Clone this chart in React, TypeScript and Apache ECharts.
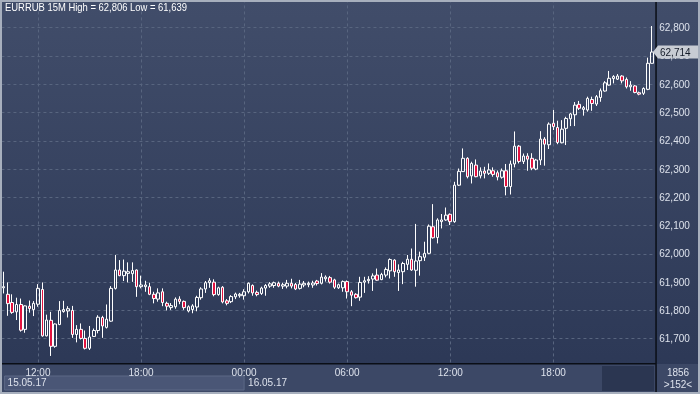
import React, { useEffect, useRef } from 'react';
import * as echarts from 'echarts';

const SYMBOL = 'EURRUB';
const PERIOD = '15M';
const START_DAY = '15.05.17';
const NEXT_DAY = '16.05.17';
const START_MINUTE = 10 * 60; // first visible bar 10:00
const STEP_MINUTES = 15;
const TOTAL_BARS = 1856;

// prices in thousandths of a rouble (62714 = 62,714)
const opens = [
  61880, 61857, 61828, 61795, 61821, 61733, 61815, 61803, 61822, 61874,
  61710, 61765, 61673, 61750, 61796, 61798, 61800, 61715, 61733, 61701,
  61666, 61708, 61729, 61775, 61740, 61762, 61878, 61943, 61923, 61931,
  61930, 61943, 61884, 61884, 61884, 61857, 61840, 61866, 61825, 61810,
  61813, 61840, 61832, 61798, 61803, 61812, 61845, 61876, 61898, 61900,
  61856, 61882, 61834, 61831, 61848, 61852, 61852, 61866, 61888, 61864,
  61860, 61879, 61886, 61888, 61896, 61886, 61886, 61896, 61892, 61878,
  61890, 61891, 61890, 61904, 61896, 61912, 61916, 61908, 61880, 61880,
  61902, 61866, 61857, 61847, 61900, 61905, 61911, 61925, 61909, 61925,
  61940, 61978, 61934, 61937, 61963, 61981, 61942, 61976, 61988, 62002,
  62096, 62058, 62114, 62120, 62140, 62114, 62243, 62291, 62338, 62276,
  62314, 62276, 62293, 62285, 62294, 62287, 62271, 62294, 62238, 62318,
  62381, 62327, 62346, 62338, 62300, 62332, 62406, 62386, 62462, 62447,
  62393, 62444, 62478, 62492, 62529, 62511, 62509, 62546, 62530, 62553,
  62576, 62597, 62620, 62618, 62629, 62617, 62591, 62594, 62570, 62568,
  62582, 62674,
];
const closes = [
  61884, 61824, 61793, 61821, 61730, 61816, 61807, 61825, 61878, 61710,
  61766, 61673, 61752, 61800, 61803, 61806, 61715, 61733, 61701, 61666,
  61706, 61729, 61776, 61745, 61769, 61878, 61943, 61923, 61939, 61937,
  61941, 61884, 61890, 61890, 61857, 61842, 61862, 61828, 61815, 61817,
  61840, 61832, 61810, 61813, 61816, 61846, 61876, 61898, 61905, 61856,
  61880, 61830, 61825, 61849, 61858, 61857, 61866, 61896, 61862, 61856,
  61879, 61888, 61894, 61898, 61886, 61891, 61896, 61886, 61876, 61893,
  61896, 61896, 61897, 61895, 61918, 61918, 61900, 61882, 61891, 61902,
  61866, 61854, 61845, 61899, 61905, 61910, 61922, 61907, 61927, 61945,
  61980, 61937, 61943, 61966, 61981, 61943, 61975, 61990, 62002, 62098,
  62057, 62120, 62120, 62137, 62114, 62243, 62292, 62338, 62273, 62320,
  62273, 62293, 62285, 62297, 62281, 62272, 62294, 62238, 62318, 62381,
  62327, 62346, 62335, 62303, 62332, 62406, 62388, 62459, 62450, 62394,
  62441, 62479, 62495, 62526, 62515, 62517, 62550, 62532, 62556, 62577,
  62605, 62621, 62627, 62629, 62612, 62591, 62597, 62571, 62565, 62585,
  62674, 62714,
];
const lows = [
  61860, 61781, 61788, 61766, 61725, 61721, 61792, 61780, 61813, 61707,
  61708, 61639, 61668, 61748, 61792, 61775, 61703, 61687, 61697, 61662,
  61660, 61706, 61719, 61703, 61736, 61760, 61874, 61921, 61904, 61899,
  61901, 61848, 61878, 61866, 61854, 61825, 61831, 61815, 61800, 61802,
  61806, 61822, 61802, 61793, 61790, 61797, 61838, 61862, 61880, 61850,
  61852, 61825, 61818, 61826, 61840, 61845, 61838, 61860, 61852, 61850,
  61855, 61852, 61880, 61880, 61882, 61876, 61878, 61878, 61872, 61874,
  61882, 61882, 61880, 61888, 61892, 61902, 61895, 61876, 61876, 61866,
  61842, 61815, 61842, 61834, 61862, 61895, 61869, 61905, 61907, 61917,
  61913, 61919, 61869, 61893, 61943, 61940, 61884, 61923, 61975, 61999,
  62054, 62037, 62090, 62117, 62102, 62110, 62240, 62290, 62267, 62249,
  62271, 62267, 62267, 62279, 62273, 62260, 62266, 62207, 62210, 62306,
  62320, 62318, 62294, 62296, 62296, 62314, 62312, 62371, 62438, 62388,
  62391, 62385, 62452, 62452, 62509, 62489, 62503, 62506, 62523, 62538,
  62574, 62595, 62603, 62615, 62603, 62585, 62577, 62568, 62561, 62562,
  62579, 62673,
];
const highs = [
  61937, 61899, 61857, 61845, 61842, 61818, 61835, 61833, 61893, 61899,
  61785, 61795, 61754, 61833, 61834, 61815, 61816, 61748, 61754, 61729,
  61745, 61736, 61783, 61781, 61821, 61886, 61996, 61978, 61980, 61970,
  61970, 61945, 61923, 61905, 61898, 61866, 61878, 61878, 61831, 61826,
  61846, 61850, 61835, 61818, 61822, 61852, 61882, 61904, 61914, 61910,
  61884, 61886, 61840, 61854, 61863, 61862, 61875, 61899, 61892, 61870,
  61884, 61893, 61900, 61902, 61902, 61898, 61908, 61912, 61897, 61908,
  61904, 61902, 61905, 61908, 61932, 61924, 61922, 61912, 61895, 61906,
  61906, 61872, 61861, 61919, 61919, 61921, 61931, 61948, 61933, 61952,
  61984, 61981, 61963, 61972, 61996, 62019, 62106, 62008, 62043, 62104,
  62176, 62126, 62141, 62164, 62143, 62255, 62302, 62373, 62342, 62326,
  62334, 62306, 62308, 62320, 62306, 62295, 62302, 62318, 62330, 62433,
  62385, 62355, 62356, 62356, 62336, 62434, 62413, 62465, 62509, 62471,
  62473, 62485, 62499, 62537, 62541, 62523, 62556, 62556, 62562, 62585,
  62611, 62647, 62632, 62636, 62632, 62624, 62611, 62597, 62574, 62589,
  62694, 62806,
];

const pad2 = (n: number) => String(n).padStart(2, '0');
const times: string[] = opens.map((_, i) => {
  const m = START_MINUTE + i * STEP_MINUTES;
  const day = m >= 1440 ? NEXT_DAY : START_DAY;
  const mm = m % 1440;
  return `${day} ${pad2(Math.floor(mm / 60))}:${pad2(mm % 60)}`;
});

const FONT = "'Liberation Sans', Arial, sans-serif";
const LABEL_COLOR = '#dde2ec';
const GRID_COLOR = '#58657f';
const FS = 10;

const fmt = (v: number) => (v / 1000).toFixed(3).replace('.', ',');
const isMajorTime = (v: string) => {
  const [h, m] = v.split(' ')[1].split(':').map(Number);
  return m === 0 && h % 6 === 0;
};
const isDayStart = (i: number) =>
  i === 0 || times[i].split(' ')[0] !== times[i - 1].split(' ')[0];

export default function App() {
  const ref = useRef<HTMLDivElement>(null);
  useEffect(() => {
    document.body.style.margin = '0';
    const chart = echarts.init(ref.current!, null, { renderer: 'svg', width: 700, height: 394 });
    const data = opens.map((o, i) => [o, closes[i], lows[i], highs[i]]);
    const hi = Math.max(...highs);
    const lo = Math.min(...lows);

    const baseGraphics: any[] = [
      {
        id: 'bg', type: 'rect', z: -10, silent: true,
        shape: { x: 0, y: 0, width: 700, height: 394 },
        style: {
          fill: {
            type: 'linear', x: 0, y: 0, x2: 0, y2: 1,
            colorStops: [{ offset: 0, color: '#414d6a' }, { offset: 1, color: '#2b3755' }],
          },
        },
      },
      { id: 'bottomPanel', type: 'rect', z: 5, silent: true, shape: { x: 0, y: 364, width: 700, height: 30 }, style: { fill: '#3c4866' } },
      { id: 'scrollDark', type: 'rect', z: 6, silent: true, shape: { x: 602, y: 366, width: 52, height: 25 }, style: { fill: '#2b3651' } },
      { id: 'hLine', type: 'rect', z: 7, silent: true, shape: { x: 0, y: 363, width: 656, height: 1.5 }, style: { fill: '#0a0e16' } },
      { id: 'vLine', type: 'rect', z: 7, silent: true, shape: { x: 655.3, y: 0, width: 1.5, height: 394 }, style: { fill: '#0a0e16' } },
      {
        id: 'title', type: 'text', z: 20, x: 5, y: 7, scaleX: 0.9, silent: true,
        style: {
          text: `${SYMBOL} ${PERIOD} High = ${fmt(hi)} Low = ${fmt(lo)}`,
          fill: '#ffffff', fontSize: 10.5, fontFamily: FONT, align: 'left', verticalAlign: 'middle',
        },
      },
      {
        id: 'bars', type: 'text', z: 20, x: 678, y: 372, silent: true,
        style: { text: String(TOTAL_BARS), fill: LABEL_COLOR, fontSize: FS, fontFamily: FONT, align: 'center', verticalAlign: 'middle' },
      },
      {
        id: 'visible', type: 'text', z: 20, x: 678, y: 384, silent: true,
        style: { text: `>${opens.length}<`, fill: LABEL_COLOR, fontSize: FS, fontFamily: FONT, align: 'center', verticalAlign: 'middle' },
      },
      {
        id: 'border', type: 'rect', z: 30, silent: true,
        shape: { x: 1, y: 1, width: 698, height: 392 },
        style: { fill: 'none', stroke: '#a7afbd', lineWidth: 2 },
      },
    ];

    chart.setOption({
      animation: false,
      textStyle: { fontFamily: FONT },
      grid: { left: 1.45, right: 45.75, top: -0.57, bottom: 27.03, outerBoundsMode: 'none', containLabel: false },
      xAxis: [
        {
          type: 'category', data: times, boundaryGap: true, z: 0,
          axisLine: { show: false }, axisTick: { show: false }, axisLabel: { show: false },
          splitLine: {
            show: true, alignWithLabel: true,
            interval: (_i: number, v: string) => isMajorTime(v),
            lineStyle: { color: GRID_COLOR, type: [3, 3], width: 1 },
          },
        },
        {
          type: 'category', data: times, boundaryGap: true, position: 'bottom', offset: 0, z: 10,
          axisLine: { show: false }, axisTick: { show: false }, splitLine: { show: false },
          axisLabel: {
            interval: (_i: number, v: string) => isMajorTime(v),
            formatter: (v: string) => v.split(' ')[1],
            color: LABEL_COLOR, fontSize: FS, lineHeight: 10, fontFamily: FONT, margin: 1,
          },
        },
        {
          type: 'category', data: times, boundaryGap: true, position: 'bottom', offset: 11, z: 10,
          axisLine: { show: false }, axisTick: { show: false }, splitLine: { show: false },
          axisLabel: {
            interval: (i: number) => isDayStart(i),
            formatter: (v: string) => v.split(' ')[0],
            align: 'left', padding: [0, 0, 0, 4],
            color: LABEL_COLOR, fontSize: FS, lineHeight: 10, fontFamily: FONT, margin: 0,
          },
        },
      ],
      yAxis: {
        type: 'value', position: 'right', min: 61600, max: 62900, interval: 100, z: 0,
        axisLine: { show: false }, axisTick: { show: false },
        axisLabel: {
          formatter: fmt, color: LABEL_COLOR, fontSize: FS, fontFamily: FONT, margin: 5,
          showMinLabel: false, showMaxLabel: false,
        },
        splitLine: { show: true, lineStyle: { color: GRID_COLOR, type: [3, 3], width: 1 } },
      },
      series: [
        {
          type: 'candlestick', xAxisIndex: 0, yAxisIndex: 0, data, barWidth: 3, z: 2,
          itemStyle: {
            color: 'transparent', color0: '#e3123f',
            borderColor: '#ffffff', borderColor0: '#ffffff', borderWidth: 1,
          },
        },
      ],
      graphic: baseGraphics,
    });

    const lastClose = closes[closes.length - 1];
    const py = chart.convertToPixel({ yAxisIndex: 0 }, lastClose) as number;
    const nextDayIdx = times.findIndex((_, i) => i > 0 && isDayStart(i));
    const xNext = chart.convertToPixel({ xAxisIndex: 0 }, times[nextDayIdx]) as number;
    const xFirst = chart.convertToPixel({ xAxisIndex: 0 }, times[0]) as number;

    chart.setOption({
      graphic: [
        ...baseGraphics,
        {
          id: 'dateBox', type: 'rect', z: 6, silent: true,
          shape: { x: xFirst + 1, y: 376, width: xNext - xFirst - 1, height: 14 },
          style: { fill: '#4a5676', stroke: '#5c6886', lineWidth: 1 },
        },
        {
          id: 'priceTag', type: 'polygon', z: 20, silent: true,
          shape: { points: [[653, py], [658, py - 6.5], [700, py - 6.5], [700, py + 6.5], [658, py + 6.5]] },
          style: { fill: '#c8ccd4' },
        },
        {
          id: 'priceText', type: 'text', z: 21, x: 660, y: py, silent: true,
          style: { text: fmt(lastClose), fill: '#141b29', fontSize: FS, fontFamily: FONT, align: 'left', verticalAlign: 'middle' },
        },
      ],
    });

    return () => chart.dispose();
  }, []);
  return <div ref={ref} style={{ position: 'fixed', left: 0, top: 0, width: 700, height: 394 }} />;
}
